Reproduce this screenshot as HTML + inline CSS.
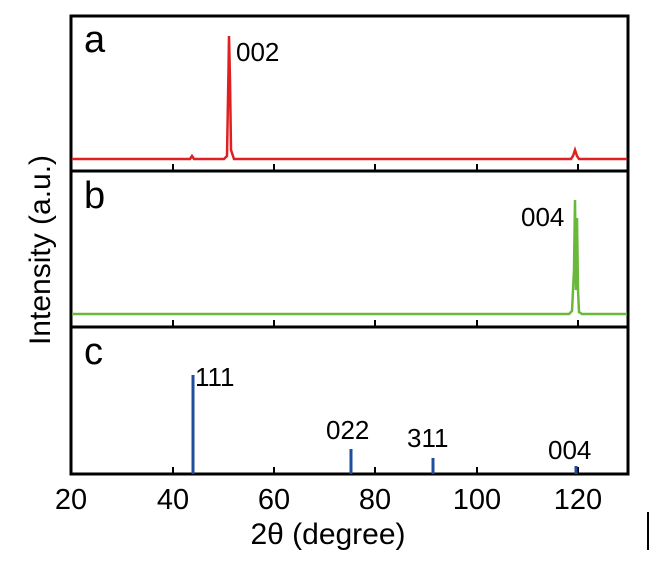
<!DOCTYPE html>
<html><head><style>body{margin:0;background:#fff}</style></head><body>
<svg width="655" height="563" xmlns="http://www.w3.org/2000/svg" font-family="Liberation Sans, Arial, sans-serif">
<g stroke="#000" stroke-width="3" fill="none">
<rect x="71" y="16" width="557" height="458"/>
<line x1="71" y1="171" x2="628" y2="171"/>
<line x1="71" y1="327" x2="628" y2="327"/>
</g>
<g stroke="#000" stroke-width="2">
<path d="M173 171v-7M274 171v-7M375 171v-7M477 171v-7M578 171v-7"/>
<path d="M173 327v-7M274 327v-7M375 327v-7M477 327v-7M578 327v-7"/>
<path d="M173 474v-7M274 474v-7M375 474v-7M477 474v-7M578 474v-7"/>
</g>
<path d="M72 159 L190 159 L192 156 L194 159 L224 159 L227 156 L228.5 70 L229 36 L230 80 L231 150 L234 159 L571 159 L573 156 L575 150 L577 156 L579 159 L627 159" stroke="#e02020" stroke-width="2.5" fill="none"/>
<path d="M72 314 L569 314 L572 311 L574 270 L575 200 L576 290 L577 218 L578 290 L579 312 L582 314 L627 314" stroke="#6ab83a" stroke-width="2.5" fill="none"/>
<g stroke="#1f4e9c" stroke-width="3">
<line x1="193" y1="375" x2="193" y2="474"/>
<line x1="351" y1="449" x2="351" y2="474"/>
<line x1="433" y1="458" x2="433" y2="474"/>
<line x1="576" y1="466" x2="576" y2="474"/>
</g>
<g font-size="38" fill="#000">
<text x="84" y="52">a</text>
<text x="84" y="208">b</text>
<text x="84" y="364">c</text>
</g>
<g font-size="26" fill="#000">
<text x="236" y="61">002</text>
<text x="521" y="226">004</text>
<text x="195" y="386">111</text>
<text x="326" y="439">022</text>
<text x="407" y="447">311</text>
<text x="548" y="459">004</text>
</g>
<g font-size="29" fill="#000" text-anchor="middle">
<text x="71" y="509">20</text><text x="173" y="509">40</text><text x="274" y="509">60</text>
<text x="375" y="509">80</text><text x="477" y="509">100</text><text x="578" y="509">120</text>
</g>
<g font-size="30" fill="#000" text-anchor="middle">
<text x="328" y="544">2θ (degree)</text>
<text transform="translate(50 250) rotate(-90)">Intensity (a.u.)</text>
</g>
<line x1="648" y1="512" x2="648" y2="550" stroke="#000" stroke-width="2"/>
</svg>
</body></html>
